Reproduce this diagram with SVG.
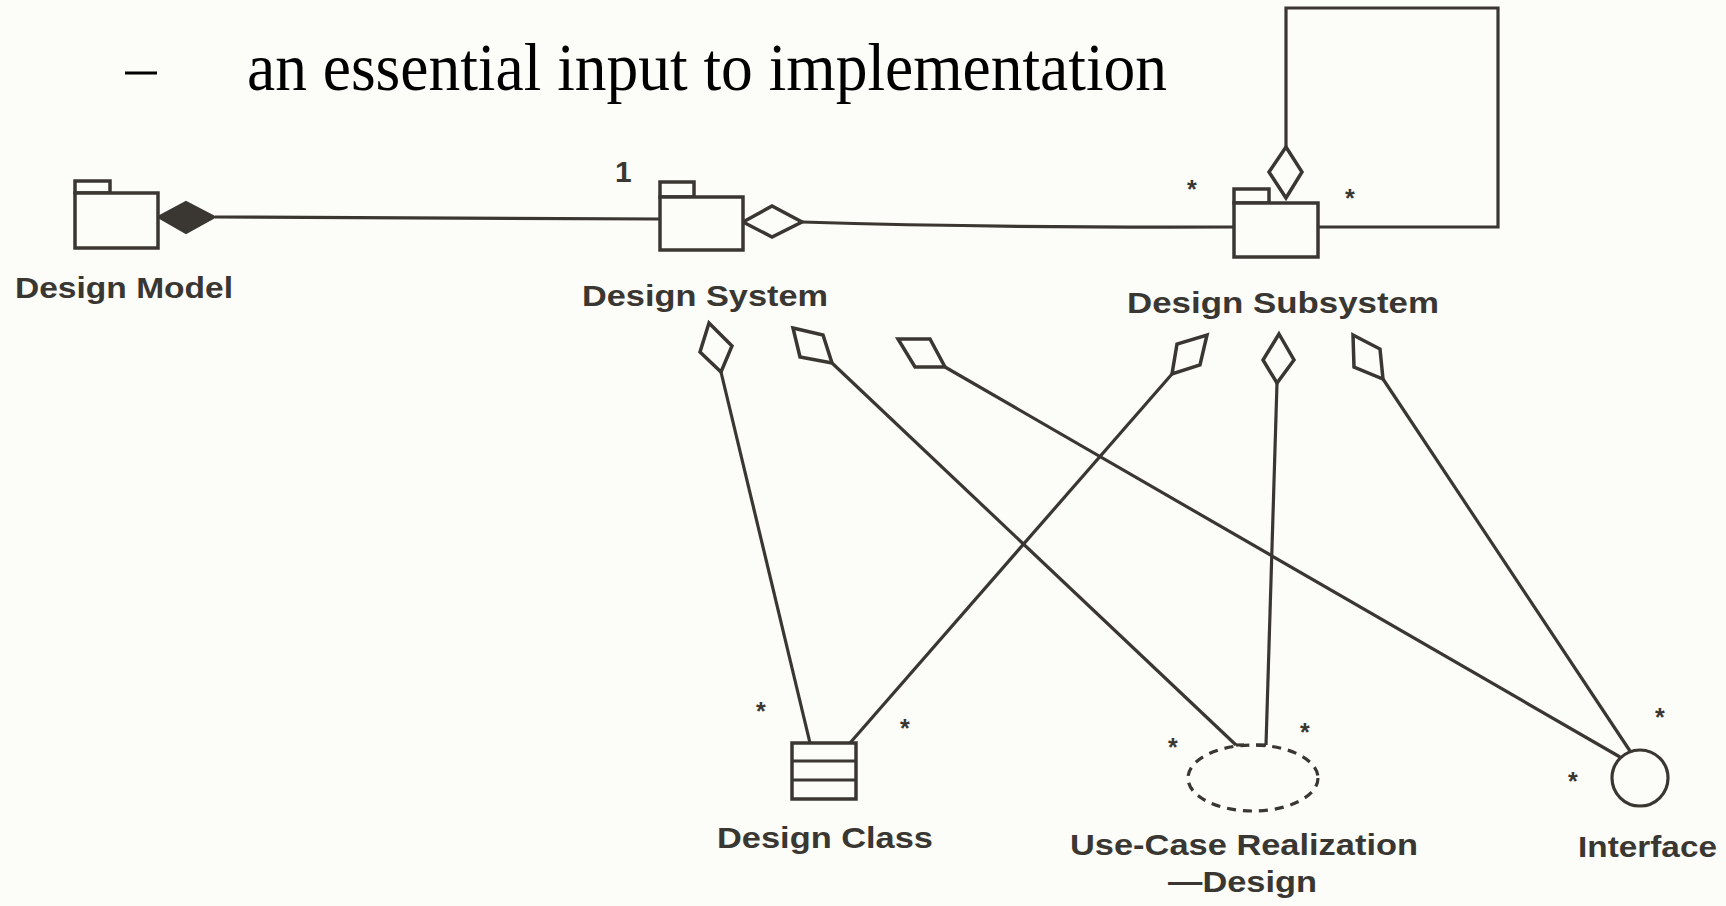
<svg xmlns="http://www.w3.org/2000/svg" width="1726" height="906" viewBox="0 0 1726 906">
<style>
.ln{fill:none;stroke:#3a3733;stroke-width:3.2;stroke-linejoin:miter}
.sh{fill:#fcfdf8;stroke:#3a3733;stroke-width:3.5}
.lbl{font-family:"Liberation Sans",Arial,sans-serif;font-weight:bold;font-size:30px;fill:#3a3733}
.star{font-family:"Liberation Sans",Arial,sans-serif;font-weight:bold;font-size:25px;fill:#3a3733}
.hd{font-family:"Liberation Serif","Times New Roman",serif;font-size:68px;fill:#000}
</style>
<rect width="1726" height="906" fill="#fcfdf8"/>
<g id="heading">
<line x1="125" y1="73" x2="157" y2="73" stroke="#000" stroke-width="3"/>
<text class="hd" x="247" y="90" textLength="920" lengthAdjust="spacingAndGlyphs">an essential input to implementation</text>
</g>
<g id="connectors">
<line class="ln" x1="215" y1="217" x2="660" y2="219"/>
<path class="ln" d="M802 222 Q1000 228 1234 227"/>
<path class="ln" d="M1286 147 V8 H1498 V227 H1318"/>
<line class="ln" x1="721" y1="372" x2="810" y2="743"/>
<line class="ln" x1="832" y1="363" x2="1236" y2="745"/>
<line class="ln" x1="1236" y1="745" x2="1244" y2="745"/>
<line class="ln" x1="945" y1="367" x2="1620" y2="757"/>
<line class="ln" x1="1172" y1="374" x2="850" y2="743"/>
<line class="ln" x1="1277" y1="383" x2="1266" y2="745"/>
<line class="ln" x1="1266" y1="745" x2="1256" y2="745"/>
<line class="ln" x1="1383" y1="379" x2="1630" y2="751"/>
<polygon points="158,217 186,202 215,217 186,233" fill="#3a3733" stroke="#3a3733" stroke-width="2"/>
<polygon class="sh" points="743,222 772,206 802,222 772,237"/>
<polygon class="sh" points="1286,147 1302,172 1286,198 1269,172"/>
<polygon class="sh" points="709,323 732,346 721,372 700,352"/>
<polygon class="sh" points="793,328 823,335 832,363 800,357"/>
<polygon class="sh" points="898,339 930,339 945,367 915,367"/>
<polygon class="sh" points="1207,335 1200,365 1172,374 1177,344"/>
<polygon class="sh" points="1279,334 1294,360 1277,383 1263,360"/>
<polygon class="sh" points="1353,335 1380,349 1383,379 1354,367"/>
<text class="lbl" x="615" y="182" font-size="27">1</text>
<text class="star" x="1187" y="198">*</text>
<text class="star" x="1345" y="207">*</text>
<text class="star" x="756" y="720">*</text>
<text class="star" x="900" y="737">*</text>
<text class="star" x="1168" y="756">*</text>
<text class="star" x="1300" y="741">*</text>
<text class="star" x="1655" y="726">*</text>
<text class="star" x="1568" y="790">*</text>
</g>
<g id="design-model">
<rect class="sh" x="75" y="181" width="35" height="12"/>
<rect class="sh" x="75" y="193" width="83" height="55"/>
<text class="lbl" x="15" y="298" textLength="218" lengthAdjust="spacingAndGlyphs">Design Model</text>
</g>
<g id="design-system">
<rect class="sh" x="660" y="182" width="34" height="15"/>
<rect class="sh" x="660" y="197" width="83" height="53"/>
<text class="lbl" x="582" y="306" textLength="246" lengthAdjust="spacingAndGlyphs">Design System</text>
</g>
<g id="design-subsystem">
<rect class="sh" x="1234" y="189" width="35" height="14"/>
<rect class="sh" x="1234" y="203" width="84" height="54"/>
<text class="lbl" x="1127" y="313" textLength="312" lengthAdjust="spacingAndGlyphs">Design Subsystem</text>
</g>
<g id="design-class">
<rect class="sh" x="792" y="743" width="64" height="56"/>
<line class="ln" x1="792" y1="761" x2="856" y2="761"/>
<line class="ln" x1="792" y1="780" x2="856" y2="780"/>
<text class="lbl" x="717" y="848" textLength="216" lengthAdjust="spacingAndGlyphs">Design Class</text>
</g>
<g id="use-case-realization">
<ellipse cx="1253" cy="778" rx="65" ry="33" fill="none" stroke="#3a3733" stroke-width="3.2" stroke-dasharray="9 7"/>
<text class="lbl" x="1070" y="855" textLength="348" lengthAdjust="spacingAndGlyphs">Use-Case Realization</text>
<text class="lbl" x="1168" y="892" textLength="149" lengthAdjust="spacingAndGlyphs">—Design</text>
</g>
<g id="interface">
<circle cx="1640" cy="778" r="28" fill="none" stroke="#3a3733" stroke-width="3.2"/>
<text class="lbl" x="1578" y="857" textLength="139" lengthAdjust="spacingAndGlyphs">Interface</text>
</g>
</svg>
